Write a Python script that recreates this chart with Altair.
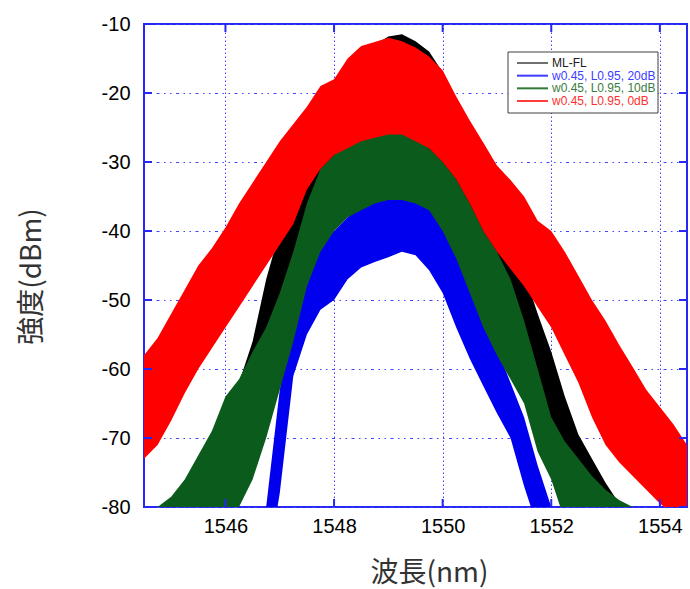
import altair as alt
import pandas as pd

# ---- data (envelopes of the comb spectra) ----
wavelength = [1544.5, 1544.75, 1545.0, 1545.25, 1545.5, 1545.75, 1546.0, 1546.25, 1546.5, 1546.75,
              1547.0, 1547.25, 1547.5, 1547.75, 1548.0, 1548.25, 1548.5, 1548.75, 1549.0, 1549.25,
              1549.5, 1549.75, 1550.0, 1550.25, 1550.5, 1550.75, 1551.0, 1551.25, 1551.5, 1551.75,
              1552.0, 1552.25, 1552.5, 1552.75, 1553.0, 1553.25, 1553.5, 1553.75, 1554.0, 1554.25, 1554.5]

mlfl_top = [-90, -90, -90, -90, -90, -76, -68, -62, -56, -47,
            -40, -34, -29, -24, -20, -17, -14.5, -13, -11.8, -11.5,
            -12.5, -14, -17, -21, -26, -31, -37, -42, -46, -52,
            -57.5, -64, -69.5, -73, -76.5, -79.5, -82, -90, -90, -90, -90]
mlfl_bot = [-90, -90, -90, -90, -90, -90, -85, -78, -72, -65,
            -58, -51, -45, -40, -36, -33, -30, -28, -27, -27,
            -28, -30, -32, -36, -40, -45, -50, -54, -58, -63,
            -68, -73, -78, -82, -86, -90, -90, -90, -90, -90, -90]

db20_top = [-90, -90, -90, -90, -90, -90, -90, -90, -90, -80,
            -63, -52, -46, -42, -40, -38, -36.5, -35, -34, -33.5,
            -34.5, -36, -38, -42, -47, -52, -57, -62, -67, -74,
            -80, -86, -90, -90, -90, -90, -90, -90, -90, -90, -90]
db20_bot = [-90, -90, -90, -90, -90, -90, -90, -90, -90, -90,
            -78, -61, -55, -51.4, -50, -47, -45.3, -44.5, -43.8, -43,
            -43.5, -45.7, -49, -54, -58.5, -62.5, -66.4, -70, -77, -83,
            -90, -90, -90, -90, -90, -90, -90, -90, -90, -90, -90]

db10_top = [-81, -80, -78.5, -76, -72.5, -69, -64, -61.5, -57.5, -54,
            -49, -43, -36, -31, -29, -27.5, -26.5, -25.5, -25, -25.5,
            -26.5, -28, -30, -32.5, -36, -40, -43, -47, -53, -60,
            -67, -70.5, -73, -75.5, -77.5, -79, -80, -81, -85, -88, -90]
db10_bot = [-90, -90, -90, -90, -90, -90, -88, -80, -76, -70,
            -63, -56, -48, -43, -40, -38, -37, -36, -35.5, -35.5,
            -36, -37, -40, -44, -49, -54, -58, -61.5, -65, -72,
            -76, -82, -90, -90, -90, -90, -90, -90, -90, -90, -90]

db0_top = [-58, -55.5, -52, -48.5, -45, -42.5, -39.5, -36, -33, -30,
           -27, -24.5, -22, -19, -18, -15, -13.2, -12.6, -12, -12.5,
           -13.4, -14.7, -16.7, -20.5, -24, -27.2, -30.5, -32.6, -35, -38.5,
           -40, -43, -46.5, -50, -53, -56.5, -59.7, -63, -65.5, -68, -71]
db0_bot = [-73, -71, -67.5, -63.5, -60, -57, -54, -51, -48, -45,
           -42, -39, -34, -31, -29, -28, -27, -26.5, -26, -26,
           -27, -28, -30, -32.5, -36, -40, -43, -45.5, -48, -51,
           -54, -58, -62, -67, -71, -73.5, -75.5, -77.5, -79.5, -81, -82]

series_names = ["ML-FL", "w0.45, L0.95, 20dB", "w0.45, L0.95, 10dB", "w0.45, L0.95, 0dB"]
x_ticks = [1546, 1548, 1550, 1552, 1554]
y_ticks = [-80, -70, -60, -50, -40, -30, -20, -10]

# ---- styling ----
W, H = 543, 483
BLUE_FRAME = "#2626f5"
GRID = "#4040ff"
band_colors = ["#000000", "#0000ee", "#0b5c1c", "#ff0000"]
legend_line_colors = ["#707070", "#3c3cff", "#2f7a34", "#ff3c3c"]
legend_text_colors = ["#202020", "#3c3cff", "#3a7d3e", "#ff3030"]

xs = alt.Scale(domain=[1544.5, 1554.5], nice=False, zero=False)
ys = alt.Scale(domain=[-80, -10], nice=False, zero=False)

xaxis = alt.Axis(values=x_ticks, labelExpr="'' + datum.value", labelPadding=9,
                 title="波長(nm)", titleX=285, titleY=66, titleAlign="center",
                 titleBaseline="middle", gridDash=[1.5, 2.5])
yaxis = alt.Axis(values=y_ticks, labelExpr="'' + datum.value", labelPadding=14,
                 title="強度(dBm)", titleX=-112, titleY=252, titleAngle=270,
                 titleAlign="center", titleBaseline="middle",
                 gridDash=[1.5, 4.5, 1.5, 4.5, 3, 4.5])


def band(top, bot, color):
    df = pd.DataFrame({"wl": wavelength, "top": top, "bot": bot})
    return alt.Chart(df).mark_area(color=color, clip=True, interpolate="linear").encode(
        x=alt.X("wl:Q", scale=xs, axis=xaxis),
        y=alt.Y("top:Q", scale=ys, axis=yaxis),
        y2="bot:Q",
    )


bands = [
    band(mlfl_top, mlfl_bot, band_colors[0]),
    band(db20_top, db20_bot, band_colors[1]),
    band(db10_top, db10_bot, band_colors[2]),
    band(db0_top, db0_bot, band_colors[3]),
]

ydf = pd.DataFrame({"v": y_ticks})
xdf = pd.DataFrame({"v": x_ticks})
tick_style = dict(color=BLUE_FRAME, strokeWidth=2)
ticks = [
    alt.Chart(ydf).mark_rule(**tick_style).encode(
        y=alt.Y("v:Q", scale=ys, axis=yaxis), x=alt.value(0), x2=alt.value(8)),
    alt.Chart(ydf).mark_rule(**tick_style).encode(
        y=alt.Y("v:Q", scale=ys, axis=yaxis), x=alt.value(W - 8), x2=alt.value(W)),
    alt.Chart(xdf).mark_rule(**tick_style).encode(
        x=alt.X("v:Q", scale=xs, axis=xaxis), y=alt.value(H - 8), y2=alt.value(H)),
    alt.Chart(xdf).mark_rule(**tick_style).encode(
        x=alt.X("v:Q", scale=xs, axis=xaxis), y=alt.value(0), y2=alt.value(8)),
]

main = alt.layer(*bands, *ticks)

# ---- legend (drawn inside the plot) ----
ldf = pd.DataFrame({"name": series_names})
ly = alt.Y("name:N", scale=alt.Scale(type="point", domain=series_names, range=[39, 77], padding=0),
           axis=None)
box = alt.Chart(pd.DataFrame({"a": [0]})).mark_rect(fill="white", stroke="#404040", strokeWidth=1).encode(
    x=alt.value(364), x2=alt.value(514), y=alt.value(28), y2=alt.value(89))
lrules = alt.Chart(ldf).mark_rule(strokeWidth=2).encode(
    x=alt.value(373), x2=alt.value(404), y=ly,
    color=alt.Color("name:N", scale=alt.Scale(domain=series_names, range=legend_line_colors), legend=None))
ltext = alt.Chart(ldf).mark_text(align="left", baseline="middle", fontSize=12, font="Liberation Sans").encode(
    x=alt.value(408), y=ly, text="name:N",
    color=alt.Color("name:N", scale=alt.Scale(domain=series_names, range=legend_text_colors), legend=None))
legend = alt.layer(box, lrules, ltext).resolve_scale(color="independent")

chart = alt.layer(main, legend).resolve_scale(y="independent", color="independent").properties(
    width=W, height=H,
    autosize=alt.AutoSizeParams(type="none"),
    padding={"left": 144, "top": 24, "right": 3, "bottom": 82},
    background="white",
).configure_view(
    stroke=BLUE_FRAME, strokeWidth=2
).configure_axis(
    labelFont="Liberation Sans", labelFontSize=20, labelColor="#000000",
    titleFont="Noto Sans CJK JP", titleFontSize=28, titleFontWeight="normal", titleColor="#333333",
    ticks=False, domain=False, grid=True, gridColor=GRID, gridWidth=1, gridOpacity=1,
)

chart.save("out.html", embed_options={"renderer": "svg", "actions": False})
